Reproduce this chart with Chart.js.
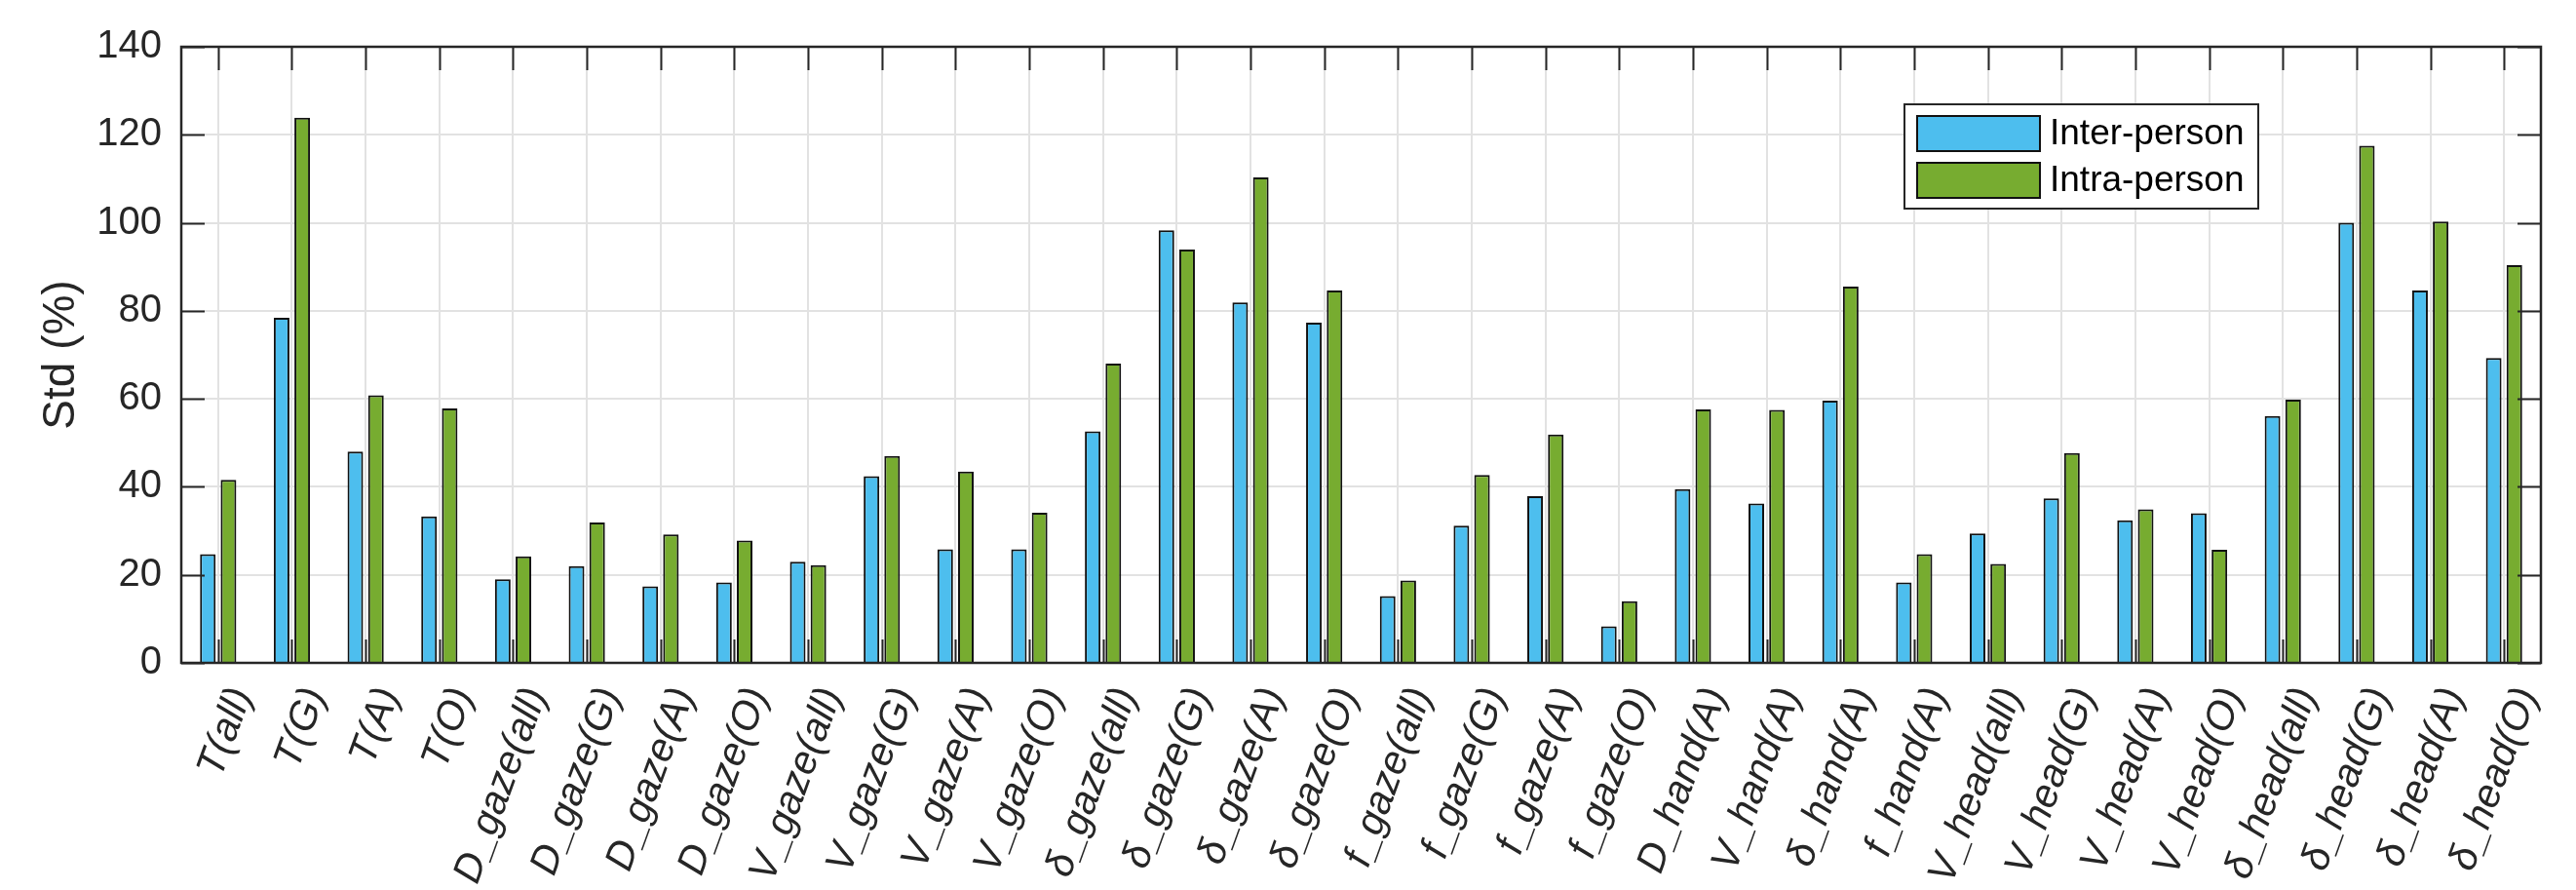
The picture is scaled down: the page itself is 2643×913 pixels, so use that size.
<!DOCTYPE html>
<html lang="en">
<head>
    <meta charset="UTF-8">
    <title>Std (%) inter / intra person</title>
    <script src="https://cdn.jsdelivr.net/npm/chart.js"></script>
    <style>
        body { margin: 0; background: #fff; }
        canvas { display: block; }
    </style>
</head>
<body>
    <canvas id="stdChart" width="2643" height="913"></canvas>

    <script>
        const categories = ['T(all)', 'T(G)', 'T(A)', 'T(O)',
            'D_gaze(all)', 'D_gaze(G)', 'D_gaze(A)', 'D_gaze(O)',
            'V_gaze(all)', 'V_gaze(G)', 'V_gaze(A)', 'V_gaze(O)',
            'δ_gaze(all)', 'δ_gaze(G)', 'δ_gaze(A)', 'δ_gaze(O)',
            'f_gaze(all)', 'f_gaze(G)', 'f_gaze(A)', 'f_gaze(O)',
            'D_hand(A)', 'V_hand(A)', 'δ_hand(A)', 'f_hand(A)',
            'V_head(all)', 'V_head(G)', 'V_head(A)', 'V_head(O)',
            'δ_head(all)', 'δ_head(G)', 'δ_head(A)', 'δ_head(O)'];

        const interPerson = [24.7, 78.4, 48.0, 33.3, 19.0, 22.0, 17.4, 18.3,
            23.0, 42.4, 25.8, 25.8, 52.6, 98.3, 81.9, 77.3,
            15.2, 31.2, 37.9, 8.3, 39.5, 36.2, 59.6, 18.3,
            29.4, 37.4, 32.4, 34.0, 56.1, 100.0, 84.6, 69.3];

        const intraPerson = [41.6, 123.9, 60.8, 57.8, 24.2, 31.9, 29.2, 27.8,
            22.2, 47.0, 43.5, 34.1, 68.0, 93.9, 110.3, 84.6,
            18.7, 42.7, 51.9, 14.0, 57.6, 57.5, 85.5, 24.7,
            22.5, 47.7, 34.9, 25.7, 59.8, 117.5, 100.3, 90.4];

        const yTicks = [0, 20, 40, 60, 80, 100, 120, 140];

        const axisColor = '#262626';
        const gridColor = '#e2e2e2';

        Chart.defaults.font.family = "'Liberation Sans', Arial, sans-serif";
        Chart.defaults.color = axisColor;

        // MATLAB style box with inward ticks on all four sides
        const matlabAxes = {
            id: 'matlabAxes',
            afterDatasetsDraw(chart) {
                const { ctx, chartArea: a, scales: { x, y } } = chart;
                const len = 24;
                ctx.save();
                ctx.strokeStyle = axisColor;
                ctx.lineWidth = 2;
                ctx.beginPath();
                x.ticks.forEach((t, i) => {
                    const px = Math.round(x.getPixelForTick(i)) + 0.5;
                    ctx.moveTo(px, a.top); ctx.lineTo(px, a.top + len);
                    ctx.moveTo(px, a.bottom); ctx.lineTo(px, a.bottom - len);
                });
                y.ticks.forEach((t, i) => {
                    const py = Math.round(y.getPixelForTick(i)) + 0.5;
                    ctx.moveTo(a.left, py); ctx.lineTo(a.left + len, py);
                    ctx.moveTo(a.right, py); ctx.lineTo(a.right - len, py);
                });
                ctx.stroke();
                ctx.lineWidth = 2.5;
                ctx.strokeRect(a.left, a.top, a.right - a.left, a.bottom - a.top);
                ctx.restore();
            }
        };

        // legend box inside the axes, top right
        const legendBox = {
            id: 'legendBox',
            afterDraw(chart) {
                const { ctx, chartArea: a } = chart;
                const bw = 363, bh = 107;
                const bx = a.right - 290 - bw, by = a.top + 59;
                ctx.save();
                ctx.fillStyle = '#fff';
                ctx.fillRect(bx, by, bw, bh);
                ctx.strokeStyle = axisColor;
                ctx.lineWidth = 2;
                ctx.strokeRect(bx, by, bw, bh);
                ctx.font = "37px 'Liberation Sans', Arial, sans-serif";
                ctx.textBaseline = 'middle';
                chart.data.datasets.forEach((ds, i) => {
                    const ry = by + 12 + i * 48;
                    ctx.fillStyle = ds.backgroundColor;
                    ctx.fillRect(bx + 13, ry, 126, 36);
                    ctx.strokeStyle = '#111';
                    ctx.strokeRect(bx + 13, ry, 126, 36);
                    ctx.fillStyle = '#000';
                    ctx.fillText(ds.label, bx + 149, ry + 19);
                });
                ctx.restore();
            }
        };

        new Chart(document.getElementById('stdChart'), {
            type: 'bar',
            data: {
                labels: categories,
                datasets: [
                    { label: 'Inter-person', data: interPerson, backgroundColor: '#4DBEEE', borderColor: '#111', borderWidth: 2 },
                    { label: 'Intra-person', data: intraPerson, backgroundColor: '#77AC30', borderColor: '#111', borderWidth: 2 }
                ]
            },
            options: {
                responsive: false,
                animation: false,
                categoryPercentage: 0.56,
                barPercentage: 0.755,
                layout: { padding: { top: 48, right: 36, left: 0, bottom: 0 } },
                plugins: {
                    legend: { display: false },
                    tooltip: { enabled: false }
                },
                scales: {
                    x: {
                        offset: true,
                        grid: { offset: false, color: gridColor, lineWidth: 2, drawTicks: false },
                        border: { display: false },
                        ticks: {
                            autoSkip: false,
                            minRotation: 70,
                            maxRotation: 70,
                            padding: 19,
                            labelOffset: 24,
                            color: axisColor,
                            font: { size: 41, style: 'italic' }
                        },
                        afterFit(scale) { scale.height = 233; }
                    },
                    y: {
                        min: 0,
                        max: 140,
                        afterBuildTicks(scale) { scale.ticks = yTicks.map(v => ({ value: v })); },
                        grid: { color: gridColor, lineWidth: 2, drawTicks: false },
                        border: { display: false },
                        ticks: { padding: 20, color: axisColor, font: { size: 40 } },
                        title: {
                            display: true,
                            text: 'Std (%)',
                            color: axisColor,
                            font: { size: 46 },
                            padding: { top: 36, bottom: 0 }
                        },
                        afterFit(scale) { scale.width = 186; }
                    }
                }
            },
            plugins: [matlabAxes, legendBox]
        });
    </script>
</body>
</html>
